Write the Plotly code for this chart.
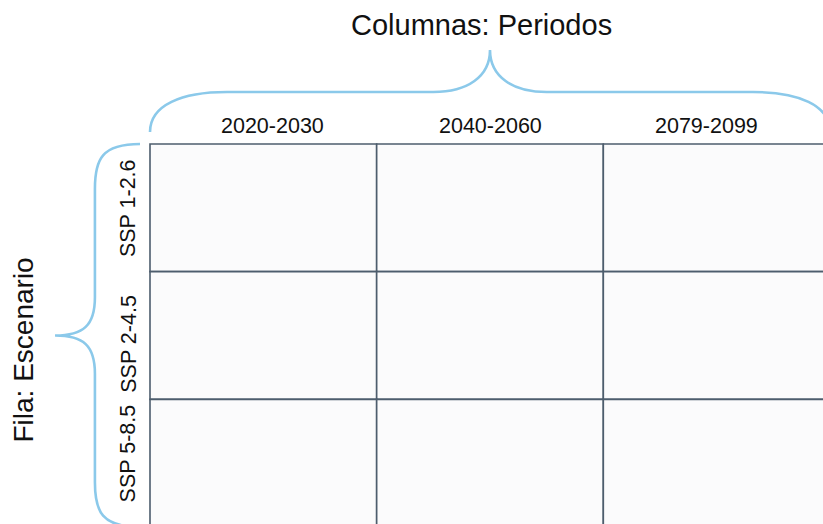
import plotly.graph_objects as go

# Data
col_title = "Columnas: Periodos"
row_title = "Fila: Escenario"
periods = ["2020-2030", "2040-2060", "2079-2099"]
scenarios = ["SSP 1-2.6", "SSP 2-4.5", "SSP 5-8.5"]

W, H = 823, 524
n_cols, n_rows = len(periods), len(scenarios)

# pixel geometry of grid (for axis ranges)
gx0, gx1 = 150, 830
gy0, gy1 = 144, 527
sx = (gx1 - gx0) / n_cols
sy = (gy1 - gy0) / n_rows
x_range = [-gx0 / sx, (W - gx0) / sx]
y_range = [(H - gy0) / sy, -gy0 / sy]

GRID = "#4d5d6d"
CELL = "#fbfbfc"
BRACE = "#8bc9ea"
TXT = "#111111"
FONT = "Liberation Sans, Arial, sans-serif"

fig = go.Figure()
# invisible trace to establish axes
fig.add_trace(go.Scatter(x=[0, n_cols], y=[0, n_rows], mode="markers",
                         marker=dict(opacity=0), hoverinfo="skip", showlegend=False))

shapes = []
for r, s in enumerate(scenarios):
    for c, p in enumerate(periods):
        shapes.append(dict(type="rect", xref="x", yref="y", x0=c, x1=c + 1, y0=r, y1=r + 1,
                           fillcolor=CELL, line=dict(color=GRID, width=1.6), layer="below"))

# top brace (data coordinates relative to grid extent)
L, R = 0, n_cols
M = (L + R) / 2
yb, yf, yt = -0.094, -0.407, -0.736
top = (f"M {L},{yb} C {L},{yf+0.1} {L+0.14},{yf} {L+0.34},{yf} "
       f"L {M-0.25},{yf} C {M-0.1},{yf} {M},{yf-0.12} {M},{yt} "
       f"C {M},{yf-0.12} {M+0.1},{yf} {M+0.25},{yf} "
       f"L {R-0.34},{yf} C {R-0.14},{yf} {R},{yf+0.1} {R},{yb}")
shapes.append(dict(type="path", xref="x", yref="y", path=top,
                   line=dict(color=BRACE, width=2.6)))

# left brace
T, B = 0, n_rows
Mm = (T + B) / 2
xe, xv, xt = -0.044, -0.243, -0.419
left = (f"M {xe},{T} C {xv+0.03},{T} {xv},{T+0.12} {xv},{T+0.35} "
        f"L {xv},{Mm-0.3} C {xv},{Mm-0.08} {xv-0.05},{Mm} {xt},{Mm} "
        f"C {xv-0.05},{Mm} {xv},{Mm+0.08} {xv},{Mm+0.3} "
        f"L {xv},{B-0.35} C {xv},{B-0.12} {xv+0.03},{B} {xe},{B}")
shapes.append(dict(type="path", xref="x", yref="y", path=left,
                   line=dict(color=BRACE, width=2.6)))

col_shift = [9, 0, -10]
row_shift = [0, -8, 10]
annotations = []
for c, p in enumerate(periods):
    annotations.append(dict(x=c + 0.5, y=-0.14, xref="x", yref="y", text=p, showarrow=False,
                            xshift=col_shift[c],
                            font=dict(size=21.5, color=TXT, family=FONT), yanchor="middle"))
for r, s in enumerate(scenarios):
    annotations.append(dict(x=-0.096, y=r + 0.5, xref="x", yref="y", text=s, showarrow=False,
                            yshift=row_shift[r], textangle=-90,
                            font=dict(size=21.5, color=TXT, family=FONT),
                            xanchor="center", yanchor="middle"))
annotations.append(dict(x=481.5 / W, y=1 - 25 / H, xref="paper", yref="paper",
                        text=col_title, showarrow=False, xanchor="center", yanchor="middle",
                        font=dict(size=29, color=TXT, family=FONT)))
annotations.append(dict(x=23 / W, y=1 - 350.5 / H, xref="paper", yref="paper", text=row_title,
                        showarrow=False, textangle=-90,
                        font=dict(size=28, color=TXT, family=FONT),
                        xanchor="center", yanchor="middle"))

fig.update_layout(
    width=W, height=H, margin=dict(l=0, r=0, t=0, b=0),
    paper_bgcolor="white", plot_bgcolor="white",
    xaxis=dict(range=x_range, visible=False, fixedrange=True),
    yaxis=dict(range=y_range, visible=False, fixedrange=True),
    shapes=shapes, annotations=annotations, showlegend=False,
)
fig.write_html("out.html", config=dict(displayModeBar=False, staticPlot=True),
               post_script="document.body.style.margin='0';document.body.style.overflow='hidden';")
